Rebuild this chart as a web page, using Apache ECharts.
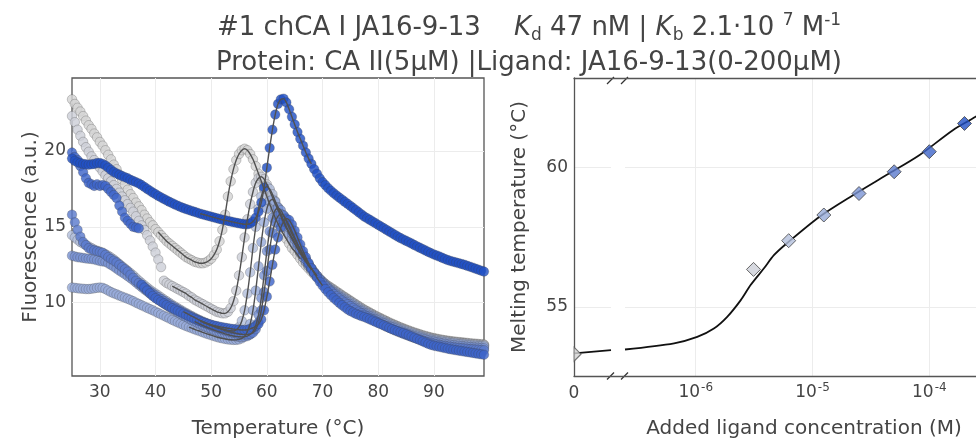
<!DOCTYPE html>
<html><head><meta charset="utf-8">
<script src="https://cdn.jsdelivr.net/npm/echarts@6/dist/echarts.min.js"></script>
<style>html,body{margin:0;padding:0;background:#fff}#c{width:976px;height:439px}</style>
</head><body><div id="c"></div>
<script>
// ---------- data: left panel (fluorescence vs temperature) ----------
const temps = [25,25.5,26,26.5,27,27.5,28,28.5,29,29.5,30,30.5,31,31.5,32,32.5,33,33.5,34,34.5,
35,35.5,36,36.5,37,37.5,38,38.5,39,39.5,40,40.5,41,41.5,42,42.5,43,43.5,44,44.5,
45,45.5,46,46.5,47,47.5,48,48.5,49,49.5,50,50.5,51,51.5,52,52.5,53,53.5,54,54.5,
55,55.5,56,56.5,57,57.5,58,58.5,59,59.5,60,60.5,61,61.5,62,62.5,63,63.5,64,64.5,
65,65.5,66,66.5,67,67.5,68,68.5,69,69.5,70,70.5,71,71.5,72,72.5,73,73.5,74,74.5,
75,75.5,76,76.5,77,77.5,78,78.5,79,79.5,80,80.5,81,81.5,82,82.5,83,83.5,84,84.5,
85,85.5,86,86.5,87,87.5,88,88.5,89,89.5,90,90.5,91,91.5,92,92.5,93,93.5,94,94.5,
95,95.5,96,96.5,97,97.5,98,98.5,99];

const concLabels = ['0 µM','3.125 µM','6.25 µM','12.5 µM','25 µM','50 µM','100 µM','200 µM'];

const fluor0 = [23.4,23.1,22.85,22.6,22.3,22.0,21.7,21.45,21.15,20.9,20.6,20.35,20.05,19.75,19.45,19.1,18.8,18.45,18.1,17.8,
17.45,17.15,16.9,16.6,16.35,16.1,15.8,15.55,15.3,15.1,14.85,14.65,14.45,14.25,14.05,13.9,13.75,13.6,13.45,13.3,
13.15,13.0,12.9,12.8,12.7,12.65,12.6,12.6,12.65,12.75,12.9,13.15,13.5,14.05,14.8,15.8,17.0,18.0,18.8,19.4,
19.8,20.05,20.15,20.05,19.8,19.45,19.0,18.5,18.0,17.5,17.0,16.5,16.05,15.6,15.2,14.85,14.5,14.2,13.9,13.6,
13.4,13.15,12.9,12.65,12.45,12.25,12.05,11.85,11.7,11.55,11.4,11.25,11.12,11.0,10.88,10.75,10.63,10.5,10.38,10.26,
10.14,10.02,9.9,9.78,9.66,9.55,9.45,9.35,9.25,9.15,9.06,8.97,8.88,8.79,8.7,8.62,8.54,8.46,8.38,8.31,
8.24,8.17,8.1,8.04,7.98,7.92,7.86,7.81,7.76,7.71,7.67,7.63,7.59,7.56,7.53,7.5,7.47,7.45,7.43,7.41,
7.39,7.37,7.35,7.33,7.31,7.3,7.28,7.27,7.25];

const fluor1 = [22.3,21.9,21.4,21.0,20.6,20.25,19.95,19.65,19.4,19.15,18.9,18.65,18.4,18.2,18.0,17.75,17.5,17.25,17.0,16.75,
16.5,16.25,16.0,15.7,15.4,15.1,14.8,14.45,14.1,13.7,13.3,12.85,12.35,11.45,11.3,11.2,11.1,11.0,10.9,10.8,
10.7,10.6,10.45,10.35,10.2,10.1,10.0,9.9,9.8,9.7,9.6,9.5,9.4,9.35,9.3,9.3,9.4,9.65,10.1,10.8,
11.8,13.0,14.3,15.5,16.5,17.3,17.9,18.2,18.3,18.15,17.8,17.4,16.95,16.5,16.1,15.7,15.3,14.95,14.6,14.25,
13.95,13.6,13.3,13.0,12.7,12.45,12.2,11.95,11.75,11.55,11.38,11.22,11.08,10.95,10.83,10.7,10.58,10.46,10.34,10.22,
10.1,9.98,9.86,9.74,9.62,9.51,9.41,9.31,9.21,9.11,9.02,8.93,8.84,8.75,8.66,8.58,8.5,8.42,8.34,8.27,
8.2,8.13,8.06,8.0,7.94,7.88,7.82,7.77,7.72,7.67,7.63,7.59,7.55,7.52,7.49,7.46,7.43,7.41,7.39,7.37,
7.35,7.33,7.31,7.29,7.27,7.26,7.24,7.23,7.21];

const fluor2 = [14.45,14.3,14.15,14.0,13.9,13.8,13.7,13.6,13.5,13.42,13.35,13.28,13.2,13.1,12.98,12.85,12.7,12.55,12.4,12.25,
12.1,11.95,11.8,11.62,11.45,11.3,11.15,11.0,10.85,10.72,10.6,10.48,10.35,10.22,10.1,9.98,9.86,9.75,9.64,9.53,
9.42,9.32,9.22,9.12,9.02,8.93,8.84,8.76,8.68,8.6,8.53,8.46,8.4,8.34,8.28,8.23,8.18,8.15,8.14,8.2,
8.4,8.8,9.5,10.6,12.0,13.6,15.0,16.2,17.0,17.5,17.65,17.5,17.15,16.7,16.25,15.8,15.4,15.0,14.65,14.3,
13.95,13.62,13.3,13.0,12.72,12.46,12.22,12.0,11.78,11.58,11.4,11.23,11.07,10.93,10.8,10.67,10.55,10.43,10.31,10.19,
10.07,9.95,9.83,9.71,9.59,9.48,9.38,9.28,9.18,9.08,8.99,8.9,8.81,8.72,8.63,8.55,8.47,8.39,8.31,8.24,
8.17,8.1,8.03,7.97,7.91,7.85,7.79,7.74,7.69,7.64,7.6,7.56,7.52,7.49,7.46,7.43,7.4,7.38,7.36,7.34,
7.32,7.3,7.28,7.26,7.24,7.23,7.21,7.2,7.18];

const fluor3 = [11.0,10.98,10.95,10.93,10.92,10.9,10.9,10.92,10.95,10.98,11.0,10.98,10.9,10.8,10.7,10.62,10.55,10.47,10.4,10.33,
10.26,10.18,10.1,10.0,9.92,9.83,9.75,9.66,9.58,9.5,9.41,9.32,9.23,9.14,9.05,8.96,8.87,8.78,8.7,8.62,
8.54,8.46,8.39,8.32,8.25,8.18,8.12,8.05,7.98,7.92,7.86,7.8,7.74,7.69,7.65,7.61,7.58,7.56,7.55,7.55,
7.58,7.65,7.8,8.1,8.6,9.5,10.8,12.4,14.0,15.3,16.2,16.7,16.8,16.65,16.3,15.85,15.4,14.95,14.55,14.2,
13.88,13.57,13.27,12.98,12.7,12.43,12.18,11.95,11.73,11.52,11.33,11.16,11.0,10.86,10.73,10.6,10.48,10.36,10.24,10.12,
10.0,9.88,9.76,9.64,9.52,9.41,9.31,9.21,9.11,9.01,8.92,8.83,8.74,8.65,8.56,8.48,8.4,8.32,8.24,8.17,
8.1,8.03,7.96,7.9,7.84,7.78,7.72,7.67,7.62,7.57,7.53,7.49,7.45,7.42,7.39,7.36,7.33,7.31,7.29,7.27,
7.25,7.23,7.21,7.19,7.17,7.16,7.14,7.13,7.11];

const fluor4 = [13.1,13.05,13.0,12.98,12.95,12.92,12.9,12.88,12.85,12.8,12.75,12.72,12.7,12.6,12.5,12.38,12.25,12.12,12.0,11.88,
11.75,11.62,11.48,11.33,11.18,11.03,10.88,10.74,10.6,10.46,10.33,10.2,10.07,9.94,9.82,9.7,9.58,9.47,9.36,9.25,
9.15,9.05,8.95,8.85,8.76,8.67,8.58,8.5,8.42,8.34,8.27,8.2,8.13,8.07,8.01,7.95,7.9,7.85,7.81,7.78,
7.76,7.75,7.76,7.8,7.9,8.1,8.5,9.2,10.3,11.8,13.4,14.7,15.6,16.1,16.25,16.1,15.75,15.35,14.95,14.55,
14.18,13.82,13.48,13.15,12.84,12.55,12.28,12.02,11.78,11.56,11.35,11.16,10.98,10.82,10.67,10.53,10.4,10.27,10.14,10.02,
9.9,9.78,9.66,9.54,9.43,9.32,9.22,9.12,9.02,8.92,8.83,8.74,8.65,8.56,8.47,8.39,8.31,8.23,8.15,8.08,
8.01,7.94,7.87,7.81,7.75,7.69,7.63,7.58,7.53,7.48,7.44,7.4,7.36,7.32,7.29,7.26,7.23,7.2,7.18,7.16,
7.14,7.12,7.1,7.08,7.06,7.05,7.03,7.02,7.0];

const fluor5 = [15.8,15.3,14.8,14.35,14.0,13.8,13.6,13.5,13.45,13.4,13.35,13.3,13.15,13.0,12.88,12.77,12.65,12.5,12.35,12.2,
12.05,11.85,11.65,11.45,11.3,11.15,11.0,10.87,10.74,10.61,10.48,10.36,10.24,10.12,10.0,9.89,9.78,9.67,9.56,9.46,
9.36,9.26,9.16,9.07,8.98,8.89,8.8,8.72,8.64,8.56,8.49,8.42,8.35,8.29,8.23,8.17,8.12,8.07,8.02,7.98,
7.94,7.92,7.9,7.9,7.93,8.02,8.25,8.7,9.5,10.7,12.1,13.5,14.6,15.3,15.7,15.85,15.75,15.45,15.1,14.7,
14.3,13.9,13.52,13.17,12.84,12.53,12.25,11.99,11.75,11.52,11.3,11.1,10.91,10.74,10.58,10.43,10.29,10.15,10.02,9.9,
9.78,9.66,9.54,9.42,9.31,9.2,9.1,9.0,8.9,8.8,8.7,8.61,8.52,8.43,8.34,8.26,8.18,8.1,8.02,7.95,
7.88,7.81,7.74,7.68,7.62,7.56,7.5,7.45,7.4,7.35,7.3,7.26,7.22,7.18,7.15,7.12,7.09,7.06,7.04,7.02,
7.0,6.98,6.96,6.94,6.93,6.91,6.9,6.88,6.87];

const fluor6 = [19.9,19.6,19.4,19.0,18.6,18.2,17.9,17.8,17.7,17.8,17.7,17.75,17.7,17.5,17.3,17.1,16.9,16.4,16.0,15.6,
15.4,15.2,15.0,14.95,14.9,11.2,11.0,10.8,10.62,10.45,10.3,10.18,10.07,9.96,9.85,9.74,9.64,9.55,9.46,9.37,
9.28,9.19,9.1,9.02,8.94,8.86,8.79,8.72,8.66,8.6,8.55,8.5,8.46,8.42,8.38,8.35,8.32,8.29,8.26,8.24,
8.22,8.2,8.2,8.22,8.28,8.35,8.45,8.6,8.9,9.5,10.4,11.4,12.5,13.5,14.3,14.95,15.35,15.55,15.45,15.15,
14.75,14.3,13.85,13.4,13.0,12.62,12.27,11.95,11.65,11.38,11.13,10.9,10.69,10.5,10.32,10.15,9.99,9.84,9.7,9.56,
9.45,9.36,9.27,9.19,9.12,9.06,8.98,8.9,8.82,8.74,8.66,8.58,8.5,8.42,8.34,8.26,8.19,8.12,8.06,8.0,
7.93,7.85,7.77,7.69,7.61,7.53,7.45,7.37,7.29,7.22,7.17,7.13,7.09,7.05,7.01,6.97,6.93,6.9,6.87,6.84,
6.81,6.78,6.75,6.72,6.69,6.66,6.63,6.6,6.57];

const fluor7 = [19.5,19.35,19.25,19.2,19.15,19.12,19.1,19.12,19.15,19.2,19.2,19.15,19.05,18.9,18.75,18.62,18.52,18.43,18.35,18.27,
18.2,18.1,18.02,17.94,17.86,17.75,17.63,17.5,17.38,17.26,17.15,17.04,16.94,16.84,16.74,16.65,16.56,16.47,16.39,16.31,
16.24,16.17,16.11,16.05,15.99,15.93,15.87,15.82,15.77,15.72,15.67,15.62,15.57,15.52,15.47,15.43,15.39,15.35,15.31,15.27,
15.23,15.2,15.17,15.17,15.22,15.35,15.6,16.0,16.6,17.6,18.9,20.2,21.4,22.4,23.1,23.4,23.45,23.2,22.75,22.25,
21.75,21.25,20.8,20.35,19.9,19.5,19.15,18.8,18.5,18.2,17.95,17.75,17.55,17.38,17.22,17.07,16.93,16.79,16.65,16.52,
16.38,16.24,16.1,15.96,15.82,15.68,15.57,15.46,15.35,15.24,15.13,15.02,14.91,14.8,14.69,14.58,14.47,14.36,14.26,14.17,
14.08,13.99,13.9,13.8,13.71,13.62,13.53,13.44,13.35,13.26,13.18,13.11,13.04,12.96,12.88,12.81,12.75,12.7,12.65,12.6,
12.55,12.5,12.43,12.37,12.31,12.24,12.18,12.11,12.05];

const fluorAll = [fluor0, fluor1, fluor2, fluor3, fluor4, fluor5, fluor6, fluor7];
// temperature windows over which the fitted model curve is drawn
const fitStart = [40.5, 43, 45, 46, 47, 48, 48.5, 48];
const fitEnd   = [66, 67, 68, 68, 69, 69, 70, 68];

// ---------- data: right panel (Tm vs ligand concentration) ----------
const ligandConc = [3.125e-6, 6.25e-6, 1.25e-5, 2.5e-5, 5e-5, 1e-4, 2e-4];
const meltTm     = [56.34, 57.37, 58.29, 59.06, 59.84, 60.56, 61.57];
const zeroConcTm = 53.3;
const fitConc = [2.48e-7, 6.53e-7, 1.03e-6, 1.43e-6, 1.86e-6, 2.43e-6, 2.95e-6, 3.84e-6, 4.67e-6, 6.0e-6, 1.15e-5, 2.22e-5, 4.29e-5, 8.26e-5, 1.59e-4, 2.49e-4, 3.2e-4];
const fitTm   = [53.47, 53.69, 53.92, 54.22, 54.64, 55.24, 55.78, 56.38, 56.85, 57.27, 58.23, 59.0, 59.72, 60.44, 61.33, 61.81, 62.15];
const zeroFitConc = [0, 1e-7];
const zeroFitTm   = [53.33, 53.45];

// ---------- styles ----------
const palette = ['#d4d4d4','#cdd0d8','#b3bfdc','#97abd9','#7a94d3','#5b7bcd','#3e65c9','#2150c5'];
const FONT = 'DejaVu Sans';
const TXT = '#444';
const GRIDC = '#ececec';
const FRAME = '#555';
const L = {left:72, top:78, width:412, height:298};
const RF = {left:574, top:78, width:402, height:298};
const R0 = {left:574, top:78, width:37, height:298};
const R1 = {left:625, top:78, width:351, height:298};

const chart = echarts.init(document.getElementById('c'), null, {renderer:'canvas'});

const series = [];
fluorAll.forEach((arr, k) => {
  series.push({
    name: concLabels[k], type:'scatter', xAxisIndex:0, yAxisIndex:0,
    data: temps.map((t, i) => [t, arr[i]]),
    symbol:'circle', symbolSize:9.5, z:2,
    itemStyle:{color:palette[k], opacity:0.82, borderColor:'rgba(60,60,60,0.45)', borderWidth:0.7},
    silent:true, animation:false
  });
});
fluorAll.forEach((arr, k) => {
  const d = [];
  temps.forEach((t, i) => { if (t >= fitStart[k] && t <= fitEnd[k]) d.push([t, arr[i]]); });
  series.push({
    type:'line', xAxisIndex:0, yAxisIndex:0, data:d, showSymbol:false, smooth:0.2, z:4,
    lineStyle:{color:'#505050', width:1.4}, silent:true, animation:false
  });
});
// right panel
series.push({type:'line', xAxisIndex:2, yAxisIndex:2, data: zeroFitConc.map((c,i)=>[c, zeroFitTm[i]]),
  showSymbol:false, lineStyle:{color:'#111', width:1.8}, z:3, animation:false});
series.push({type:'line', xAxisIndex:3, yAxisIndex:3, data: fitConc.map((c,i)=>[c, fitTm[i]]),
  showSymbol:false, smooth:0.3, lineStyle:{color:'#111', width:1.8}, z:3, animation:false});
series.push({type:'scatter', xAxisIndex:2, yAxisIndex:2, data:[[0, zeroConcTm]],
  symbol:'path://M0,0 L10,10 L0,20 Z', symbolSize:[7,14], symbolOffset:[3.5,0], z:5,
  itemStyle:{color:palette[0], borderColor:'#555', borderWidth:1}, animation:false});
series.push({type:'scatter', xAxisIndex:3, yAxisIndex:3, clip:false,
  data: ligandConc.map((c,i)=>({value:[c, meltTm[i]], itemStyle:{color:palette[i+1]}})),
  symbol:'diamond', symbolSize:14, z:5,
  itemStyle:{borderColor:'#444', borderWidth:1}, animation:false});

const tickLabel = {fontFamily:FONT, fontSize:17, color:TXT};
const nameStyle = {fontFamily:FONT, fontSize:20, color:TXT};
const split = {show:true, lineStyle:{color:GRIDC, width:1}, showMinLine:false, showMaxLine:false};
const frameLine = {show:true, lineStyle:{color:FRAME, width:1.3}};

const option = {
  animation:false,
  backgroundColor:'#fff',
  grid:[
    Object.assign({show:true, borderColor:FRAME, borderWidth:1.3, backgroundColor:'#fff', outerBoundsMode:'none', containLabel:false}, L),
    Object.assign({show:false, outerBoundsMode:'none', containLabel:false}, RF),
    Object.assign({show:false, outerBoundsMode:'none', containLabel:false}, R0),
    Object.assign({show:false, outerBoundsMode:'none', containLabel:false}, R1)
  ],
  xAxis:[
    {gridIndex:0, type:'value', min:25, max:99, splitNumber:7,
     axisLine:{show:false}, axisTick:{show:false},
     axisLabel:Object.assign({margin:8, showMinLabel:false, showMaxLabel:false}, tickLabel),
     splitLine:split,
     name:'Temperature (°C)', nameLocation:'middle', nameGap:43, nameTextStyle:nameStyle},
    {gridIndex:1, type:'value', min:0, max:1, show:true, position:'bottom',
     axisLine:frameLine, axisTick:{show:false}, axisLabel:{show:false}, splitLine:{show:false},
     name:'Added ligand concentration (M)', nameLocation:'middle', nameGap:43,
     nameTextStyle:Object.assign({padding:[0,0,0,58]}, nameStyle)},
    {gridIndex:2, type:'value', min:0, max:1e-7,
     axisLine:{show:false}, axisTick:{show:false}, splitLine:{show:false},
     axisLabel:Object.assign({margin:9, showMaxLabel:false, formatter:v => v === 0 ? '0' : ''}, tickLabel)},
    {gridIndex:3, type:'log', logBase:10, min:2.48e-7, max:2.51e-4,
     axisLine:{show:false}, axisTick:{show:false}, splitLine:split,
     axisLabel:Object.assign({margin:6, showMinLabel:false, showMaxLabel:false,
       formatter:v => '10{sp|' + Math.round(Math.log10(v)) + '}',
       rich:{sp:{fontFamily:FONT, fontSize:12, color:TXT, padding:[0,0,10,1]}}}, tickLabel)},
    {gridIndex:1, type:'value', min:0, max:1, show:true, position:'top',
     axisLine:frameLine, axisTick:{show:false}, axisLabel:{show:false}, splitLine:{show:false}}
  ],
  yAxis:[
    {gridIndex:0, type:'value', min:5.17, max:24.81, splitNumber:4,
     axisLine:{show:false}, axisTick:{show:false},
     axisLabel:Object.assign({margin:6, showMinLabel:false, showMaxLabel:false}, tickLabel),
     splitLine:split,
     name:'Fluorescence (a.u.)', nameLocation:'middle', nameGap:31, nameTextStyle:nameStyle},
    {gridIndex:1, type:'value', min:0, max:1, show:true,
     axisLine:frameLine, axisTick:{show:false}, axisLabel:{show:false}, splitLine:{show:false},
     name:'Melting temperature (°C)', nameLocation:'middle', nameGap:44, nameTextStyle:nameStyle},
    {gridIndex:2, type:'value', min:52.52, max:63.2, splitNumber:2,
     axisLine:{show:false}, axisTick:{show:false},
     axisLabel:Object.assign({margin:6, showMinLabel:false, showMaxLabel:false}, tickLabel),
     splitLine:split},
    {gridIndex:3, type:'value', min:52.52, max:63.2, splitNumber:2,
     axisLine:{show:false}, axisTick:{show:false}, axisLabel:{show:false},
     splitLine:split}
  ],
  series: series,
  graphic:[
    {type:'text', x:529, y:28, silent:true, style:{
      text:'#1 chCA I JA16-9-13    {i|K}{sb|d} 47 nM | {i|K}{sb|b} 2.1·10 {sp|7} M{sp|-1}',
      align:'center', verticalAlign:'middle', fontFamily:FONT, fontSize:26, fill:TXT, lineHeight:32,
      rich:{
        i:{fontStyle:'italic', fontFamily:FONT, fontSize:26, fill:TXT, lineHeight:32},
        sb:{fontFamily:FONT, fontSize:17, fill:TXT, lineHeight:17, verticalAlign:'bottom'},
        sp:{fontFamily:FONT, fontSize:17, fill:TXT, lineHeight:17, verticalAlign:'top'}
      }}},
    {type:'text', x:529, y:63, silent:true, style:{
      text:'Protein: CA II(5µM) |Ligand: JA16-9-13(0-200µM)',
      align:'center', verticalAlign:'middle', fontFamily:FONT, fontSize:26, fill:TXT}},
    // axis-break marks
    {type:'line', silent:true, shape:{x1:R0.left+R0.width-4, y1:RF.top+6, x2:R0.left+R0.width+3, y2:RF.top-1}, style:{stroke:'#333', lineWidth:1.2}},
    {type:'line', silent:true, shape:{x1:R1.left-4, y1:RF.top+6, x2:R1.left+3, y2:RF.top-1}, style:{stroke:'#333', lineWidth:1.2}},
    {type:'line', silent:true, shape:{x1:R0.left+R0.width-4, y1:RF.top+RF.height+3.5, x2:R0.left+R0.width+3, y2:RF.top+RF.height-3.5}, style:{stroke:'#333', lineWidth:1.2}},
    {type:'line', silent:true, shape:{x1:R1.left-4, y1:RF.top+RF.height+3.5, x2:R1.left+3, y2:RF.top+RF.height-3.5}, style:{stroke:'#333', lineWidth:1.2}}
  ]
};
chart.setOption(option);
</script>
</body></html>
